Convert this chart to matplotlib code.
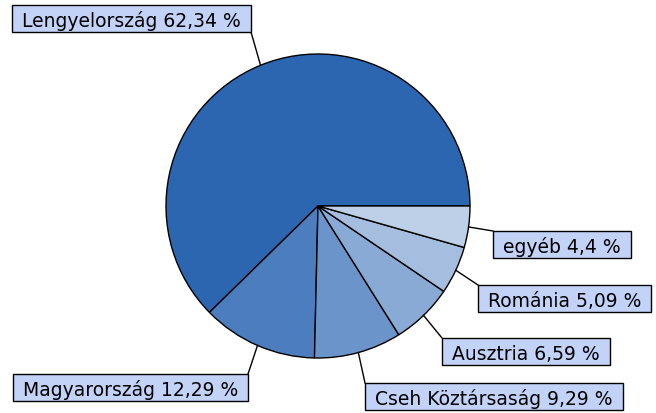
import numpy as np
import matplotlib
matplotlib.use('Agg')
import matplotlib.pyplot as plt
from matplotlib.patches import Rectangle

# adatok
orszagok = ['Lengyelország', 'Magyarország', 'Cseh Köztársaság', 'Ausztria', 'Románia', 'egyéb']
ertekek = [62.34, 12.29, 9.29, 6.59, 5.09, 4.4]
cimkek = ['62,34', '12,29', '9,29', '6,59', '5,09', '4,4']
szinek = ['#2D66B0', '#4C7DBE', '#6A94CA', '#88AAD4', '#A5BEDF', '#BDD0E7']

# címke dobozok horgony-sarka (pixel) és az oldala
doboz = [
    ((251, 33), 'right', 'bottom'),
    ((248, 375), 'right', 'top'),
    ((365, 384), 'left', 'top'),
    ((442, 339), 'left', 'top'),
    ((478, 286), 'left', 'top'),
    ((493, 232), 'left', 'top'),
]

W, H = 656, 414
fig = plt.figure(figsize=(W / 100, H / 100), dpi=100)
ax = fig.add_axes([0, 0, 1, 1])

kx, ky, r = 318, 207, 152
# y tengely lefelé mutat, ezért counterclock=False
wedges, _ = ax.pie(ertekek, colors=szinek, startangle=0, counterclock=False,
                   center=(kx, ky), radius=r, frame=True,
                   wedgeprops=dict(edgecolor='black', linewidth=1.0))
ax.set_xlim(0, W)
ax.set_ylim(H, 0)
ax.axis('off')
ax.set_aspect('auto')

renderer = fig.canvas.get_renderer()
px, bh = 10, 27
for w, nev, c, (pos, ha, va) in zip(wedges, orszagok, cimkek, doboz):
    szog = np.deg2rad((w.theta1 + w.theta2) / 2)
    ex = kx + r * np.cos(szog)
    ey = ky + r * np.sin(szog)
    ax.plot([ex, pos[0]], [ey, pos[1]], color='black', linewidth=1.0, zorder=3)

    t = ax.text(0, 0, f'{nev} {c} %', ha='left', va='baseline', fontsize=13.5,
                family='DejaVu Sans', color='black', zorder=5)
    tw = t.get_window_extent(renderer=renderer).width
    bw = tw + 2 * px
    x0 = pos[0] if ha == 'left' else pos[0] - bw
    y0 = pos[1] if va == 'top' else pos[1] - bh
    ax.add_patch(Rectangle((x0, y0), bw, bh, facecolor='#C3D3F8',
                           edgecolor='black', linewidth=1.0, zorder=4))
    t.set_position((x0 + px, y0 + 21))

fig.savefig('out.png', dpi=100)
